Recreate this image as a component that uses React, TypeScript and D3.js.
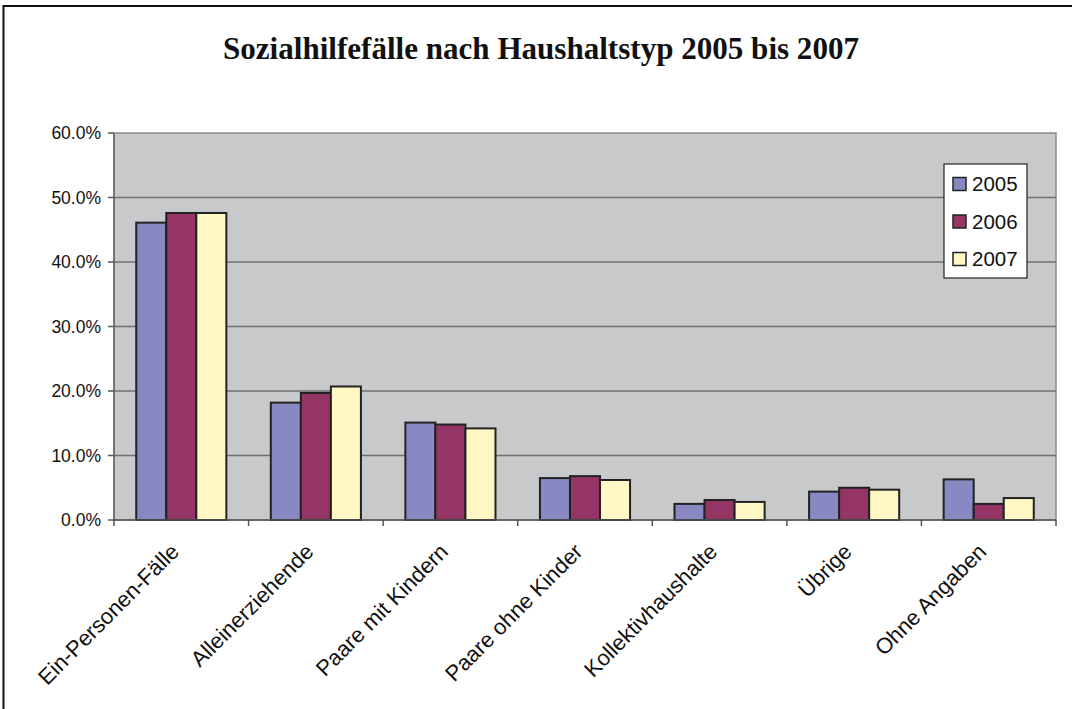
import React from "react";
import * as d3 from "d3";

const categories = [
  "Ein-Personen-Fälle",
  "Alleinerziehende",
  "Paare mit Kindern",
  "Paare ohne Kinder",
  "Kollektivhaushalte",
  "Übrige",
  "Ohne Angaben",
];
const seriesNames = ["2005", "2006", "2007"];
const values2005 = [46.1, 18.2, 15.1, 6.5, 2.5, 4.4, 6.3];
const values2006 = [47.6, 19.7, 14.8, 6.8, 3.1, 5.0, 2.5];
const values2007 = [47.6, 20.7, 14.2, 6.2, 2.8, 4.7, 3.4];
const yTicks = [0, 10, 20, 30, 40, 50, 60];
const colors = ["#8889C3", "#943566", "#FFF8C4"];

const W = 1072;
const H = 709;
const plot = { left: 114, right: 1056, top: 133, bottom: 520 };

export default function App() {
  const series = [values2005, values2006, values2007];
  const x = d3
    .scaleBand<string>()
    .domain(categories)
    .range([plot.left, plot.right])
    .paddingInner(0)
    .paddingOuter(0);
  const inner = d3
    .scaleBand<string>()
    .domain(seriesNames)
    .range([0, x.bandwidth()])
    .paddingInner(0)
    .paddingOuter(0.74);
  const y = d3.scaleLinear().domain([0, 60]).range([plot.bottom, plot.top]);
  const fmt = (v: number) => v.toFixed(1) + "%";

  return (
    <svg
      width={W}
      height={H}
      style={{ position: "absolute", left: 0, top: 0, background: "#fff" }}
      fontFamily="Arial, 'Liberation Sans', sans-serif"
    >
      <rect x={0} y={0} width={W} height={H} fill="#fff" />
      {/* outer frame */}
      <path d={`M3.5,${H} V6 H${W + 5}`} fill="none" stroke="#111" strokeWidth={2} />
      <text
        x={223}
        y={59}
        textAnchor="start"
        fontFamily="'Liberation Serif', 'Times New Roman', serif"
        fontWeight="bold"
        fontSize={32}
        fill="#111"
        textLength={636}
        lengthAdjust="spacingAndGlyphs"
      >
        Sozialhilfefälle nach Haushaltstyp 2005 bis 2007
      </text>

      {/* plot background */}
      <rect
        x={plot.left}
        y={plot.top}
        width={plot.right - plot.left}
        height={plot.bottom - plot.top}
        fill="#C8C9CB"
        stroke="#8a8a8a"
        strokeWidth={1.5}
      />
      {yTicks.map((t) => (
        <g key={t}>
          {t > 0 && t < 60 && (
            <line x1={plot.left} x2={plot.right} y1={y(t)} y2={y(t)} stroke="#6f6f6f" strokeWidth={1.5} />
          )}
          <line x1={plot.left - 6} x2={plot.left} y1={y(t)} y2={y(t)} stroke="#555" strokeWidth={1.5} />
          <text x={101} y={y(t)} dy="0.36em" textAnchor="end" fontSize={17.5} fill="#111">
            {fmt(t)}
          </text>
        </g>
      ))}

      {/* bars */}
      {categories.map((c, i) => (
        <g key={c} transform={`translate(${x(c)},0)`}>
          {series.map((s, j) => (
            <rect
              key={j}
              x={inner(seriesNames[j])}
              y={y(s[i])}
              width={inner.bandwidth()}
              height={y(0) - y(s[i])}
              fill={colors[j]}
              stroke="#222"
              strokeWidth={2}
            />
          ))}
        </g>
      ))}

      {/* axes */}
      <line x1={plot.left} x2={plot.left} y1={plot.top} y2={plot.bottom} stroke="#666" strokeWidth={1.5} />
      <line x1={plot.left} x2={plot.right} y1={plot.bottom} y2={plot.bottom} stroke="#555" strokeWidth={1.5} />
      {categories.map((c) => (
        <line key={"t" + c} x1={x(c)!} x2={x(c)!} y1={plot.bottom} y2={plot.bottom + 6} stroke="#555" strokeWidth={1.5} />
      ))}
      <line x1={plot.right} x2={plot.right} y1={plot.bottom} y2={plot.bottom + 6} stroke="#555" strokeWidth={1.5} />

      {categories.map((c) => {
        const cx = x(c)! + x.bandwidth() / 2 - 1;
        const cy = plot.bottom + 33;
        return (
          <text
            key={"l" + c}
            x={cx}
            y={cy}
            textAnchor="end"
            fontSize={22}
            fill="#111"
            transform={`rotate(-45, ${cx}, ${cy})`}
          >
            {c}
          </text>
        );
      })}

      {/* legend */}
      <rect x={944} y={164} width={83} height={114} fill="#fff" stroke="#222" strokeWidth={1.2} />
      {seriesNames.map((n, j) => {
        const cy = 184 + j * 37.5;
        return (
          <g key={n}>
            <rect x={953} y={cy - 6.5} width={13} height={13} fill={colors[j]} stroke="#222" strokeWidth={1.5} />
            <text x={972} y={cy} dy="0.36em" fontSize={20.5} fill="#111">
              {n}
            </text>
          </g>
        );
      })}
    </svg>
  );
}
